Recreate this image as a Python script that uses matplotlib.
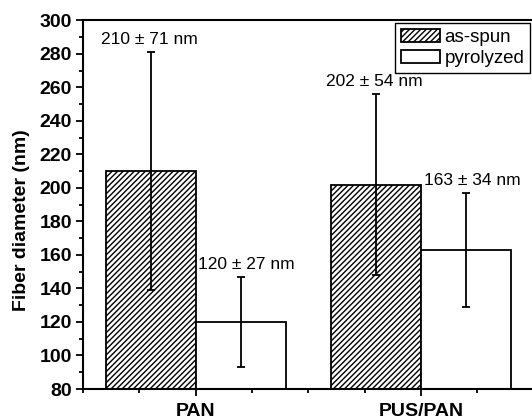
import matplotlib
matplotlib.use('Agg')
import matplotlib.pyplot as plt
import numpy as np
from matplotlib.ticker import MultipleLocator

plt.rcParams['font.family'] = ['Liberation Sans', 'DejaVu Sans']
plt.rcParams['hatch.linewidth'] = 1.0

categories = ['PAN', 'PUS/PAN']
as_spun = [210, 202]
as_spun_err = [71, 54]
pyrolyzed = [120, 163]
pyrolyzed_err = [27, 34]
as_spun_labels = ['210 \u00b1 71 nm', '202 \u00b1 54 nm']
pyrolyzed_labels = ['120 \u00b1 27 nm', '163 \u00b1 34 nm']

W, H = 532, 419
fig = plt.figure(figsize=(W / 100, H / 100), dpi=100)
ax = fig.add_axes([83 / W, 30 / H, 450.5 / W, 368.7 / H])

ind = np.arange(1, len(categories) + 1)
width = 0.4
err_kw = dict(ecolor='black', elinewidth=1.3, capsize=3, capthick=1.3)
ax.bar(ind - width / 2, as_spun, width, yerr=as_spun_err,
       color='white', edgecolor='black', linewidth=1.3, hatch='//////',
       label='as-spun', error_kw=err_kw)
ax.bar(ind + width / 2, pyrolyzed, width, yerr=pyrolyzed_err,
       color='white', edgecolor='black', linewidth=1.3,
       label='pyrolyzed', error_kw=err_kw)

for i in range(len(categories)):
    ax.text(ind[i] - width / 2 - 0.005, as_spun[i] + as_spun_err[i] + 3,
            as_spun_labels[i], ha='center', va='bottom', fontsize=12.5)
    ax.text(ind[i] + width / 2 + 0.027, pyrolyzed[i] + pyrolyzed_err[i] + 3,
            pyrolyzed_labels[i], ha='center', va='bottom', fontsize=12.5)

ax.set_xlim(0.5, 2.5)
ax.set_ylim(80, 300)
ax.set_xticks(ind)
ax.set_xticklabels(categories, fontweight='bold', fontsize=14)
ax.xaxis.set_minor_locator(MultipleLocator(0.25))
ax.yaxis.set_major_locator(MultipleLocator(20))
ax.yaxis.set_minor_locator(MultipleLocator(10))
for lab in ax.get_yticklabels():
    lab.set_fontweight('bold')
    lab.set_fontsize(14)
ax.tick_params(which='major', direction='out', length=5, width=1.3, pad=3)
ax.tick_params(which='minor', direction='out', length=3, width=1.3)
ax.tick_params(axis='x', which='major', pad=5)
for s in ax.spines.values():
    s.set_linewidth(1.5)
ax.set_ylabel('Fiber diameter (nm)', fontweight='bold', fontsize=14)
ax.yaxis.set_label_coords(-0.1176, 0.457)

ax.legend(loc='upper left', bbox_to_anchor=(0.6925, 0.993), borderaxespad=0,
          fancybox=False, edgecolor='black', framealpha=1, fontsize=13.5,
          handlelength=2.1, handleheight=0.75, handletextpad=0.25,
          borderpad=0.3, labelspacing=0.2)

fig.savefig('out.png', dpi=100)
